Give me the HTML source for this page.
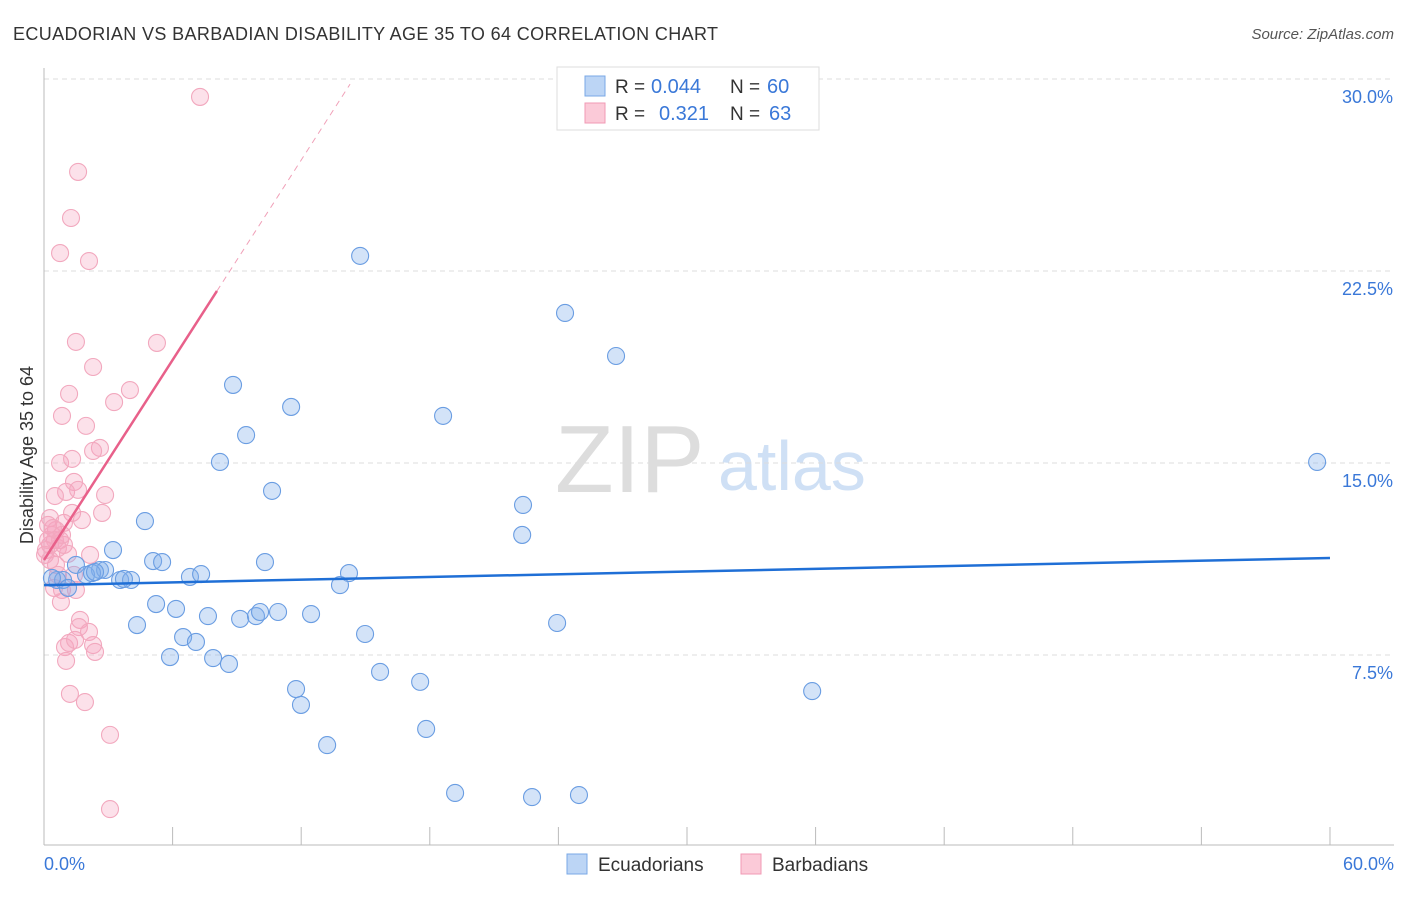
<!DOCTYPE html>
<html><head><meta charset="utf-8"><style>
body{margin:0;background:#fff;font-family:"Liberation Sans",sans-serif}
svg text{font-family:"Liberation Sans",sans-serif}
</style></head><body>
<svg id="chart" width="1406" height="892">
<text x="13" y="40" font-size="18" fill="#333" textLength="705">ECUADORIAN VS BARBADIAN DISABILITY AGE 35 TO 64 CORRELATION CHART</text>
<text x="1394" y="39" font-size="15" fill="#555" font-style="italic" text-anchor="end">Source: ZipAtlas.com</text>
<text x="555" y="492" font-size="96" fill="#ddd" font-family="Liberation Serif">ZIP</text>
<text x="718" y="490" font-size="70" fill="#cfe0f5">atlas</text>
<text transform="translate(33,455) rotate(-90)" font-size="18" fill="#333" text-anchor="middle">Disability Age 35 to 64</text>
<g id="grid"></g><g id="marks"></g>
<g>
<rect x="557" y="67" width="262" height="63" fill="#fff" stroke="#ddd"/>
<rect x="585" y="76" width="20" height="20" fill="#bcd5f5" stroke="#7aa8e6"/>
<rect x="585" y="103" width="20" height="20" fill="#fbcad8" stroke="#f09ab4"/>
<text x="615" y="93" font-size="19" fill="#333">R =</text>
<text x="651" y="93" font-size="20" fill="#3a78d8">0.044</text>
<text x="730" y="93" font-size="19" fill="#333">N =</text>
<text x="767" y="93" font-size="20" fill="#3a78d8">60</text>
<text x="615" y="120" font-size="19" fill="#333">R =</text>
<text x="659" y="120" font-size="20" fill="#3a78d8">0.321</text>
<text x="730" y="120" font-size="19" fill="#333">N =</text>
<text x="769" y="120" font-size="20" fill="#3a78d8">63</text>
</g>
<g>
<rect x="567" y="854" width="20" height="20" fill="#bcd5f5" stroke="#7aa8e6"/>
<text x="598" y="871" font-size="19" fill="#333">Ecuadorians</text>
<rect x="741" y="854" width="20" height="20" fill="#fbcad8" stroke="#f09ab4"/>
<text x="772" y="871" font-size="19" fill="#333">Barbadians</text>
</g>
</svg>
<script>
const yTicks=[7.5,15,22.5,30];
const yTickLabels=["7.5%","15.0%","22.5%","30.0%"];
const xTickVals=[0,6,12,18,24,30,36,42,48,54,60];
const blueX=[14.75,24.31,26.69,8.82,11.53,18.62,9.43,8.21,59.40,10.64,22.35,4.71,22.31,3.22,5.09,5.51,10.31,14.23,1.49,2.61,2.85,1.96,2.24,6.81,7.33,0.61,0.89,3.55,4.06,3.73,13.81,1.12,5.23,6.16,7.65,9.15,9.89,10.08,10.92,12.46,4.34,14.98,23.94,6.49,7.09,5.88,7.89,8.63,15.68,17.55,11.76,11.99,35.84,17.83,13.21,19.18,22.77,24.96,0.37,2.38];
const blueY=[23.09,20.86,19.18,18.05,17.19,16.84,16.09,15.04,15.04,13.91,13.36,12.73,12.19,11.60,11.17,11.13,11.13,10.70,11.02,10.82,10.82,10.63,10.70,10.55,10.66,10.43,10.43,10.43,10.43,10.47,10.23,10.12,9.49,9.30,9.02,8.91,9.02,9.18,9.18,9.10,8.67,8.32,8.75,8.20,8.01,7.42,7.38,7.15,6.84,6.45,6.17,5.55,6.09,4.61,3.98,2.11,1.95,2.03,10.51,10.74];
const pinkX=[7.28,1.59,1.26,0.75,2.10,1.49,5.27,2.29,1.17,4.01,3.27,0.84,1.96,2.61,2.29,0.75,1.31,1.40,1.03,1.59,2.85,0.51,1.31,2.71,1.77,0.28,0.93,0.56,2.15,1.12,0.51,0.28,0.65,0.37,0.19,0.09,0.56,1.40,0.47,0.84,1.49,0.79,1.68,1.63,2.10,1.17,0.98,2.29,2.38,1.45,1.03,1.21,1.91,3.08,3.08,0.05,0.28,0.75,0.93,0.19,0.42,0.65,0.84];
const pinkY=[29.30,26.37,24.57,23.20,22.89,19.73,19.69,18.75,17.70,17.85,17.38,16.84,16.45,15.59,15.47,15.00,15.16,14.26,13.87,13.95,13.75,13.71,13.05,13.05,12.77,12.85,12.66,12.38,11.41,11.45,11.99,11.80,11.68,12.19,12.58,11.60,11.02,10.63,10.12,10.04,10.04,9.57,8.87,8.59,8.40,7.97,7.81,7.89,7.62,8.09,7.27,5.98,5.66,4.38,1.48,11.41,11.21,11.99,11.80,11.99,12.46,10.63,12.19];
const blueTrend=[0,10.23,60,11.29];
const pinkTrend=[0,11.21,8.07,21.72,14.28,29.8];
const X=v=>44+v*21.433, Y=v=>847-v*25.6;
const NS="http://www.w3.org/2000/svg";
function mk(tag,attrs,parent){const e=document.createElementNS(NS,tag);for(const k in attrs)e.setAttribute(k,attrs[k]);parent.appendChild(e);return e;}
const grid=document.getElementById('grid'), marks=document.getElementById('marks');
yTicks.forEach((t,i)=>{
 const l=mk('line',{x1:44,x2:1394,y1:Y(t),y2:Y(t),stroke:'#ddd','stroke-dasharray':'5,4'},grid);
 
 
 const tx=mk('text',{x:1393,y:Y(t)+24,'font-size':18,fill:'#3a78d8','text-anchor':'end'},grid);
 tx.textContent=yTickLabels[i];
 
 
});
const ax=mk('line',{x1:44,x2:1394,y1:845,y2:845,stroke:'#bbb'},grid);


const ay=mk('line',{x1:44,x2:44,y1:68,y2:845,stroke:'#bbb'},grid);


xTickVals.forEach(t=>{const l=mk('line',{x1:X(t),x2:X(t),y1:827,y2:845,stroke:'#bbb'},grid);
 
 });
const x0=mk('text',{x:44,y:870,'font-size':18,fill:'#3a78d8'},grid);x0.textContent='0.0%';


const x1=mk('text',{x:1394,y:870,'font-size':18,fill:'#3a78d8','text-anchor':'end'},grid);x1.textContent='60.0%';


pinkX.forEach((v,i)=>{const c=mk('circle',{cx:X(v),cy:Y(pinkY[i]),r:8.5,fill:'rgba(246,165,190,0.33)',stroke:'#f2a8be','stroke-width':1.1},marks);
 
 });
blueX.forEach((v,i)=>{const c=mk('circle',{cx:X(v),cy:Y(blueY[i]),r:8.5,fill:'rgba(130,175,235,0.35)',stroke:'#6a9de2','stroke-width':1.1},marks);
 
 });
const bt=mk('line',{x1:X(blueTrend[0]),y1:Y(blueTrend[1]),x2:X(blueTrend[2]),y2:Y(blueTrend[3]),stroke:'#1f6fd6','stroke-width':2.5},marks);


const pt=mk('line',{x1:X(pinkTrend[0]),y1:Y(pinkTrend[1]),x2:X(pinkTrend[2]),y2:Y(pinkTrend[3]),stroke:'#e8608a','stroke-width':2.5},marks);


const pd=mk('line',{x1:X(pinkTrend[2]),y1:Y(pinkTrend[3]),x2:X(pinkTrend[4]),y2:Y(pinkTrend[5]),stroke:'#f0a0b8','stroke-width':1,'stroke-dasharray':'6,5'},marks);


</script>
</body></html>
